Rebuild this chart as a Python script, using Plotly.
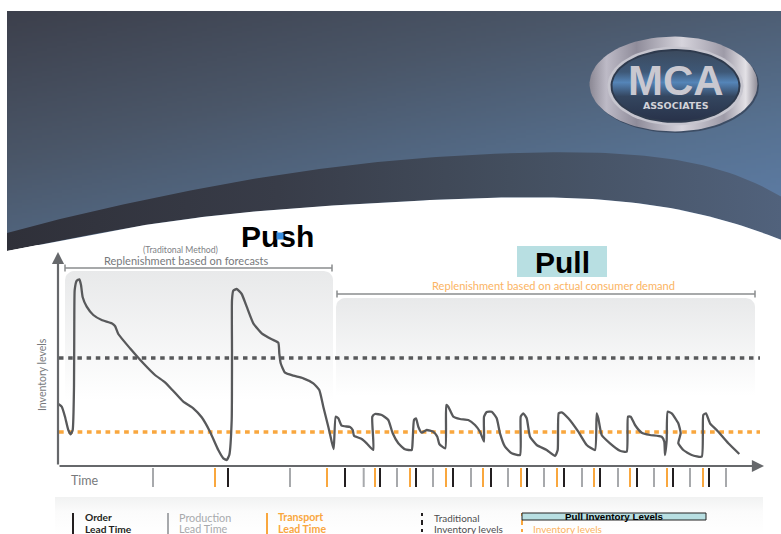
import numpy as np
import plotly.graph_objects as go

# ---------- data (time units, inventory units) ----------
inventory_time = [1.3,4.7,8,11.3,13.7,15.7,17,17.3,17.7,19.7,22.3,24,25.7,29.7,36.3,44.7,54.7,58,61.3,73,86.3,98,108,116.3,126.3,136.3,144.7,153,161.3,166.3,169.7,172.3,174.7,175,175,176.3,179.7,184.7,189.7,196.3,204.7,214.7,221.3,222.3,223.7,228,236.3,246.3,256.3,262.3,266.3,271.3,274.7,276.7,
 278.7,281.3,284.7,293,295.7,297,304.7,309.7,316.3,315.3,318,324.7,331.3,335.7,341.3,348,354.7,355.7,357,359,361.3,364.7,369.7,376.3,380.3,382.3,388.3,389.3,391.3,396.3,403,411.3,418,423,427,427,429.7,434.7,439.7,443,448,454.7,463,463.7,466.3,469.7,473,479.7,489.7,498,500.7,501.7,504.7,511.3,521.3,529.7,538,539.7,541.3,544.7,553,563,569.7,571,573.7,578,584.7,593,604.7,607.3,608,609.7,610.7,614.7,621.3,623.7,621.3,626.3,634.7,644.7,646.3,649,653,659.7,671.3,682.3]
inventory_level = [62,59.3,49.3,36,31.7,36,79.3,146,176,185.3,186.7,181,168.7,159.3,151,146,142.7,140,132,117.7,102.7,91,83.7,75,64.3,57.7,48.7,34.3,16,7.7,6,11,46,112.7,166,175.3,177,172,159.3,142.7,132.7,126.7,123.3,112.7,102.7,93.3,90.3,87.7,82.7,76,59.3,39.3,24.3,17,
 49.3,47.7,40.3,39,36,30.3,27,22.7,16,49.3,52,51,46,32.7,22.7,16.7,16,26,46,47.7,39.3,33.3,36,34.3,29.3,22,17.7,61,59.3,49.3,47,46,41,34.3,24.3,49.3,54,54.3,47.7,32.7,19.3,12.7,11,49.3,52.7,47.7,29.3,21,16,10,16,52.7,53.7,47.7,34.3,21,16,52.7,47.7,31,22.7,15.3,14.3,49.3,49.3,41,33.3,31,29.3,24.3,11,26,54.3,52.7,42.7,32.7,22.7,16,11,9.3,51,52.7,42.7,36,22.7,12]
traditional_inventory_level = 108
pull_inventory_level = 34
production_lead_times = [96,233,306.7,340,376,414,451,487,525,561,597,633,669]
transport_lead_times = [158,270,318,353,389,426,464,500,537,573,610,646]
order_lead_times = [171,288,323,359,396,434,470,507,543,580,616,652]

GRAY_LINE = "#58595b"
ORANGE = "#f9a73e"
TEAL = "#b8dfe2"

# page pixel -> axis coordinate helpers for the decoration
def X(px):
    return np.asarray(px, dtype=float) - 57
def Y(py):
    return 466 - np.asarray(py, dtype=float)

fig = go.Figure()

# ---------- header ----------
hx = np.linspace(7, 781, 156)
hy = np.linspace(11, 245, 95)
cx_, cy_ = (hx[:-1] + hx[1:]) / 2, (hy[:-1] + hy[1:]) / 2
u, v = np.meshgrid((cx_ - 7) / 774, (cy_ - 11) / 234)
fig.add_trace(go.Heatmap(x=X(hx), y=Y(hy), z=0.52 * u + 0.62 * v, zmin=0, zmax=1.14, showscale=False,
    hoverinfo="skip", xgap=0, ygap=0,
    colorscale=[[0, "#3c3f4b"], [0.35, "#4a5668"], [0.7, "#56708f"], [1, "#5f80ac"]]))

upper_x = [7,100,200,300,400,448,548,648,714,750,781]
upper_y = [233,210,188,172,161,155,152,157,168,180,197]
lower_x = [7,100,200,300,400,448,514,614,714,748,781]
lower_y = [251,233,217,208,202,199,197,201,218,227,240]
edge_x = np.linspace(7, 781, 120)
def edge(xs, ys):
    return np.polyval(np.polyfit((np.array(xs) - 394) / 387, ys, 6), (edge_x - 394) / 387)
edge_up, edge_low = edge(upper_x, upper_y), edge(lower_x, lower_y)

fig.add_trace(go.Scatter(
    x=X(np.r_[edge_x, edge_x[::-1]]), y=Y(np.r_[edge_up, edge_low[::-1]]), mode="lines", line=dict(width=0),
    fill="toself", hoverinfo="skip",
    fillgradient=dict(type="horizontal",
        colorscale=[[0, "#2f3039"], [0.35, "#383c48"], [0.65, "#434e5e"], [1, "#51627c"]])))
fig.add_trace(go.Scatter(
    x=X(np.r_[edge_x, 781, 7]), y=Y(np.r_[edge_low, 262, 262]), mode="lines", line=dict(width=0),
    fill="toself", fillcolor="white", hoverinfo="skip"))

# ---------- logo ----------
def ellipse(cx, cy, rx, ry, n=90):
    t = np.linspace(0, 2 * np.pi, n)
    return X(cx + rx * np.cos(t)), Y(cy + ry * np.sin(t))

def add_ellipse(cx, cy, rx, ry, fillcolor=None, gradient=None, orient="horizontal", line=None):
    ex, ey = ellipse(cx, cy, rx, ry)
    kw = dict(fillgradient=dict(type=orient, colorscale=gradient)) if gradient else dict(fillcolor=fillcolor)
    fig.add_trace(go.Scatter(x=ex, y=ey, mode="lines", fill="toself" if (gradient or fillcolor) else None,
                             line=line or dict(width=0), hoverinfo="skip", **kw))

add_ellipse(675, 85.5, 84, 47.5, fillcolor="rgba(30,35,50,0.45)")
add_ellipse(673.5, 84, 84, 47.5, gradient=[[0, "#8b8894"], [0.1, "#bdbac6"], [0.28, "#8f8c9a"], [0.55, "#d6d4dc"], [0.8, "#9e9ba8"], [0.93, "#e3e1e6"], [1, "#8e8b96"]])
add_ellipse(675.5, 86, 68, 39.5, fillcolor="#c6c5ce")
add_ellipse(675.5, 86, 65, 37, fillcolor="#2e3a4d")
add_ellipse(675.5, 86, 63, 35, orient="vertical",
            gradient=[[0, "#28324a"], [0.35, "#34465f"], [0.55, "#5585b8"], [0.7, "#3e5877"], [1, "#3b4a5e"]])

# ---------- shaded panels ----------
def rounded(x0, y0, x1, y1, r=9):
    t = np.linspace(0, np.pi / 2, 8)
    xs = np.r_[x0 + r - r * np.cos(t), x1 - r + r * np.sin(t), x1, x0]
    ys = np.r_[y0 + r - r * np.sin(t), y0 + r - r * np.cos(t), y1, y1]
    return X(xs), Y(ys)

for box in [(65, 271, 333, 400), (336, 298, 755, 396)]:
    rx, ry = rounded(*box)
    fig.add_trace(go.Scatter(x=rx, y=ry, mode="lines", line=dict(width=0), fill="toself", hoverinfo="skip",
        fillgradient=dict(type="vertical", colorscale=[[0, "#ffffff"], [1, "#e8e9ea"]])))

# legend strip
sx, sy = X([55, 763, 763, 55]), Y([497, 497, 534, 534])
fig.add_trace(go.Scatter(x=sx, y=sy, mode="lines", line=dict(width=0), fill="toself", hoverinfo="skip",
    fillgradient=dict(type="vertical", colorscale=[[0, "#ffffff"], [0.6, "#fbfbfb"], [1, "#f1f2f2"]])))

# ---------- series ----------
span = [X(59), X(760)]
fig.add_trace(go.Scatter(x=span, y=[traditional_inventory_level] * 2, mode="lines", hoverinfo="skip",
    line=dict(color=GRAY_LINE, width=3.6, dash="4.5px,4.7px"), name="Traditional inventory levels"))
fig.add_trace(go.Scatter(x=span, y=[pull_inventory_level] * 2, mode="lines", hoverinfo="skip",
    line=dict(color=ORANGE, width=3.7, dash="4.7px,4.6px"), name="Pull inventory levels"))
fig.add_trace(go.Scatter(x=inventory_time, y=inventory_level, mode="lines", hoverinfo="skip",
    line=dict(color=GRAY_LINE, width=2.3, shape="spline", smoothing=0.45), name="Inventory"))

def lead_ticks(times, color):
    xs, ys = [], []
    for t in times:
        xs += [t, t, None]
        ys += [-2, -21, None]
    fig.add_trace(go.Scatter(x=xs, y=ys, mode="lines", line=dict(color=color, width=2), hoverinfo="skip"))

lead_ticks(production_lead_times, "#a7a9ac")
lead_ticks(transport_lead_times, ORANGE)
lead_ticks(order_lead_times, "#231f20")

# ---------- brackets ----------
def seg(x0, y0, x1, y1, color, width=1.5, dash=None):
    fig.add_shape(type="line", x0=X(x0), x1=X(x1), y0=Y(y0), y1=Y(y1), line=dict(color=color, width=width, dash=dash))

for (a, b, y) in [(65, 332, 268), (337, 755, 294)]:
    seg(a, y, b, y, "#8a8c8e")
    seg(a, y - 3.5, a, y + 3.5, "#8a8c8e")
    seg(b, y - 3.5, b, y + 3.5, "#8a8c8e")

# axes
for tx, ty, ax, ay in [(764, 466, 58, 466), (58, 252, 58, 466)]:
    fig.add_annotation(x=X(tx), y=Y(ty), ax=X(ax), ay=Y(ay), axref="x", ayref="y", xref="x", yref="y", text="",
                       showarrow=True, arrowhead=2, arrowsize=1.1, arrowwidth=2.2, arrowcolor="#66686b")

# Pull box
fig.add_shape(type="rect", x0=X(517), x1=X(607), y0=Y(246), y1=Y(277), line=dict(width=0), fillcolor=TEAL)

# legend marks
seg(73, 513, 73, 534, "#231f20", 2)
seg(168, 513, 168, 534, "#a7a9ac", 2)
seg(267, 513, 267, 534, ORANGE, 2)
for a, b in [(513, 516), (520, 525), (529, 532)]:
    seg(422, a, 422, b, "#231f20", 2)
    seg(522, a, 522, b, ORANGE, 2)
fig.add_shape(type="rect", x0=X(522), x1=X(706), y0=Y(513), y1=Y(520), line=dict(color="#222", width=1), fillcolor=TEAL)

# ---------- text ----------
def txt(px, py, s, size, color, family="Lato", anchor="left", bold=False, angle=0):
    fig.add_annotation(x=X(px - (2 if anchor == "left" else 0)), y=Y(py), text=f"<b>{s}</b>" if bold else s, showarrow=False,
                       xanchor=anchor, yanchor="middle", textangle=angle, font=dict(size=size, color=color, family=family))

txt(277, 236, "Push", 30, "black", "Liberation Sans", "center", True)
# small selection mark inside Push
fig.add_annotation(x=X(280), y=Y(236), text="", showarrow=False, width=4, height=4, bgcolor="#3a8fe0")
txt(562, 262, "Pull", 30, "black", "Liberation Sans", "center", True)
txt(180.7, 249, "(Traditonal Method)", 8.7, "#808285", anchor="center")
txt(186, 260, "Replenishment based on forecasts", 11, "#77797c", anchor="center")
txt(553, 285, "Replenishment based on actual consumer demand", 11.1, "#fbb463", anchor="center")
txt(42, 375, "Inventory levels", 10.5, "#77797c", anchor="center", angle=-90)
txt(71, 480, "Time", 12.5, "#77797c")
txt(85, 517, "Order", 10.2, "#231f20", bold=True)
txt(85, 528.5, "Lead Time", 10.2, "#231f20", bold=True)
txt(179, 517, "Production", 10.8, "#a7a9ac")
txt(179, 528, "Lead Time", 10.8, "#a7a9ac")
txt(278, 517, "Transport", 10.6, ORANGE, bold=True)
txt(278, 528.5, "Lead Time", 10.6, ORANGE, bold=True)
txt(434, 518, "Traditional", 9.9, "#4d4d4f")
txt(434, 528.5, "Inventory levels", 10, "#4d4d4f")
txt(533, 528.5, "Inventory levels", 10, "#fbb463")
txt(614, 516.5, "Pull Inventory Levels", 9.8, "black", "Liberation Sans", "center", True)
txt(675.5, 80, "MCA", 42, "#c9c8d0", "Liberation Sans", "center", True)
txt(675.5, 105, "ASSOCIATES", 9.5, "#d2d2d8", "DejaVu Sans", "center", True)

fig.update_layout(
    width=781, height=534, margin=dict(l=0, r=0, t=0, b=0), showlegend=False,
    paper_bgcolor="white", plot_bgcolor="white",
    xaxis=dict(range=[-57, 724], visible=False, fixedrange=True),
    yaxis=dict(range=[-68, 466], visible=False, fixedrange=True),
)
fig.write_html("out.html", config={"displayModeBar": False}, post_script="document.body.style.margin='0';")
